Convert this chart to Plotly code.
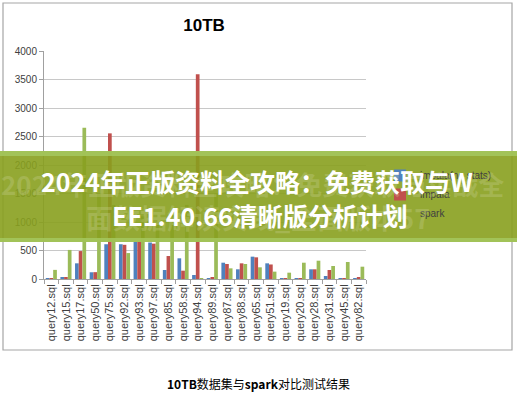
import plotly.graph_objects as go

categories = ["query12.sql", "query15.sql", "query17.sql", "query50.sql", "query75.sql",
              "query92.sql", "query93.sql", "query97.sql", "query85.sql", "query58.sql",
              "query94.sql", "query89.sql", "query87.sql", "query88.sql", "query65.sql",
              "query51.sql", "query19.sql", "query20.sql", "query28.sql", "query31.sql",
              "query45.sql", "query82.sql"]
series_names = ["impala(no stats)", "impala", "spark"]
blue_vals = [10, 25, 275, 118, 610, 610, 650, 640, 158, 363, 70, 15, 286, 170, 392, 275, 5, 5, 170, 53, 5, 15]
red_vals = [15, 25, 490, 120, 2555, 600, 660, 620, 403, 146, 3590, 20, 263, 275, 380, 255, 10, 10, 170, 158, 15, 25]
green_vals = [160, 510, 2655, 1500, 1300, 455, 1100, 1000, 1200, 1300, 10, 1500, 187, 263, 205, 129, 111, 286, 321, 228, 298, 216]
y_ticks = [0, 500, 1000, 1500, 2000, 2500, 3000, 3500, 4000]

title_text = "10TB"
caption_text = "<b>10TB</b>数据集与<b>spark</b>对比测试结果"
banner_line1 = "2024年正版资料全攻略：免费获取与W"
banner_line2 = "EE1.40.66清晰版分析计划"
ghost_line1 = "2024年正版资料全攻略：免费获取与实战全"
ghost_line2 = "面数据解读实践_全面版本57"

colors = ["#4F81BD", "#C0504D", "#9BBB59"]

W, H = 517, 396
L, R, T, B = 44, 366, 51, 279


def px(x):
    return (x - L) / (R - L)


def py(y):
    return (B - y) / (B - T)


fig = go.Figure()
for name, vals, c in zip(series_names, [blue_vals, red_vals, green_vals], colors):
    fig.add_trace(go.Bar(x=categories, y=vals, name=name, marker_color=c,
                         marker_line_width=0))

fig.update_layout(
    width=W, height=H,
    margin=dict(l=L, r=W - R, t=T, b=H - B, pad=0),
    paper_bgcolor="white", plot_bgcolor="white",
    barmode="group", bargap=0.24, bargroupgap=0.0,
    font=dict(family="Liberation Sans, Arial, sans-serif", size=10, color="#404040"),
    showlegend=True,
    legend=dict(x=px(380), y=py(161), xanchor="left", yanchor="top",
                font=dict(size=10, color="#404040"), bgcolor="rgba(0,0,0,0)",
                tracegroupgap=6, itemwidth=30),
    title=dict(text="<b>" + title_text + "</b>", x=0.497, xref="paper", xanchor="center",
               y=1 - 25 / H, yanchor="middle",
               font=dict(size=17, color="#000000", family="Liberation Sans, Arial, sans-serif")),
)

fig.update_yaxes(range=[0, 4000], tickvals=y_ticks, showgrid=True, gridcolor="#C8C8C8",
                 gridwidth=1, showline=True, linecolor="#A0A0A0", ticks="outside",
                 ticklen=4, tickcolor="#A0A0A0", zeroline=False,
                 tickfont=dict(size=10, color="#404040"))
fig.update_xaxes(showline=True, linecolor="#A0A0A0", ticks="outside", ticklen=4,
                 tickcolor="#A0A0A0", tickson="boundaries", tickangle=-90,
                 tickfont=dict(size=11, color="#404040"), showgrid=False)

shapes = []
# outer chart border
shapes.append(dict(type="rect", xref="paper", yref="paper", x0=px(3), x1=px(512),
                   y0=py(350), y1=py(3), line=dict(color="#A6A6A6", width=1.2),
                   fillcolor="rgba(0,0,0,0)", layer="below"))
# banner
shapes.append(dict(type="rect", xref="paper", yref="paper", x0=px(0), x1=px(517),
                   y0=py(242), y1=py(151), line=dict(width=0),
                   fillcolor="rgba(136,160,30,0.9)", layer="above"))
shapes.append(dict(type="rect", xref="paper", yref="paper", x0=px(0), x1=px(517),
                   y0=py(156), y1=py(151), line=dict(width=0),
                   fillcolor="rgba(165,200,95,0.85)", layer="above"))
shapes.append(dict(type="rect", xref="paper", yref="paper", x0=px(0), x1=px(517),
                   y0=py(242), y1=py(238), line=dict(width=0),
                   fillcolor="rgba(165,200,95,0.85)", layer="above"))
fig.update_layout(shapes=shapes)

ann = []
cjk = "Noto Sans CJK SC, sans-serif"
ann.append(dict(text="<b>" + ghost_line1 + "</b>", x=px(253), y=py(183), xref="paper", yref="paper",
                showarrow=False, xanchor="center", yanchor="middle",
                font=dict(family=cjk, size=26, color="rgba(215,220,170,0.25)")))
ann.append(dict(text="<b>" + ghost_line2 + "</b>", x=px(258), y=py(217), xref="paper", yref="paper",
                showarrow=False, xanchor="center", yanchor="middle",
                font=dict(family=cjk, size=27, color="rgba(215,220,170,0.25)")))
ann.append(dict(text="<b>" + banner_line1 + "</b>", x=px(257), y=py(181), xref="paper", yref="paper",
                showarrow=False, xanchor="center", yanchor="middle",
                font=dict(family=cjk, size=25, color="white")))
ann.append(dict(text="<b>" + banner_line2 + "</b>", x=px(260), y=py(215), xref="paper", yref="paper",
                showarrow=False, xanchor="center", yanchor="middle",
                font=dict(family=cjk, size=25, color="white")))
ann.append(dict(text=caption_text, x=px(258), y=py(383), xref="paper", yref="paper",
                showarrow=False, xanchor="center", yanchor="middle",
                font=dict(family=cjk, size=12, color="#000000")))
fig.update_layout(annotations=ann)

fig.write_html("out.html", include_plotlyjs=True, config={"displayModeBar": False},
               post_script="document.body.style.margin='0';document.body.style.overflow='hidden';")
